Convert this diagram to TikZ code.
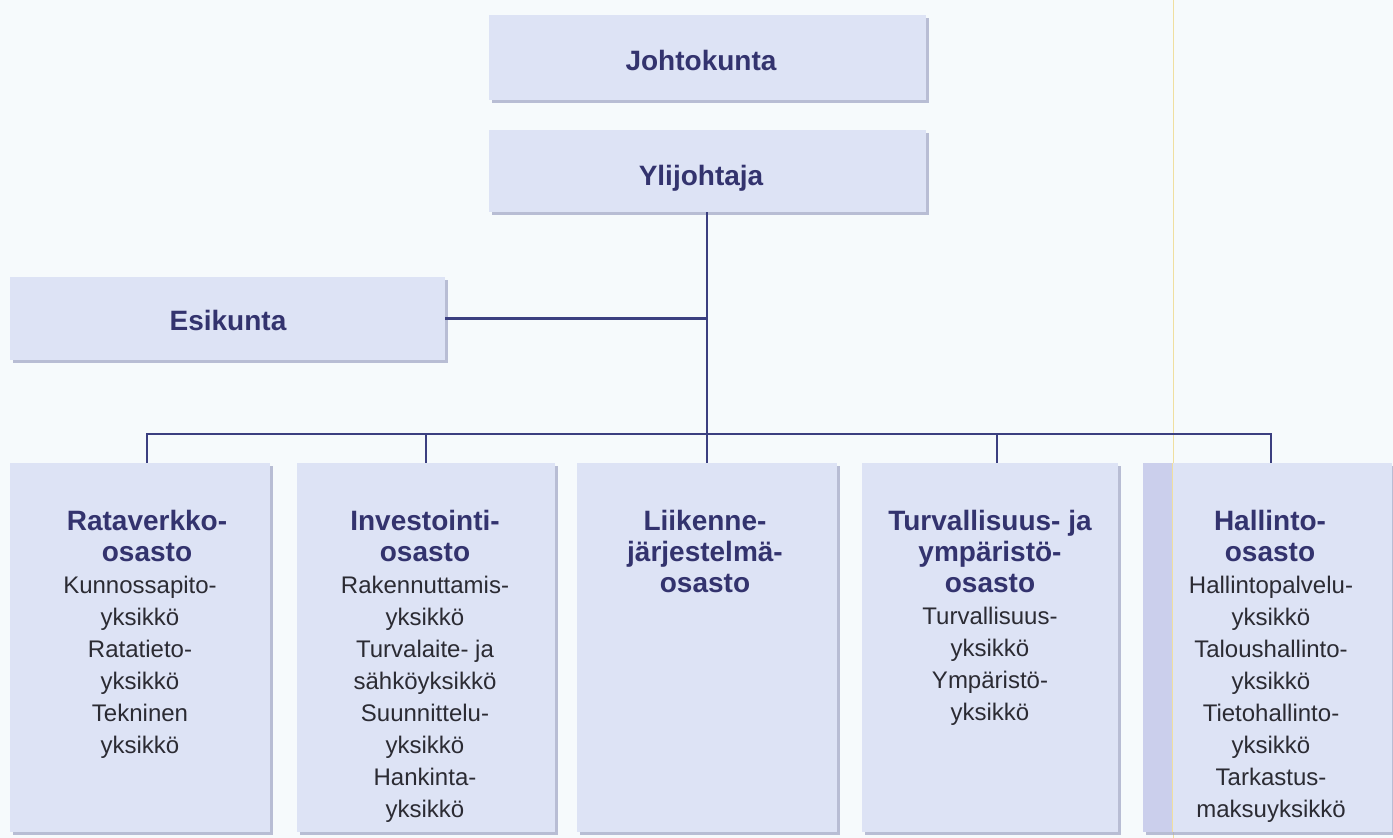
\documentclass[tikz,border=0pt]{standalone}
\usepackage{fontspec}
\setmainfont{Liberation Sans}
\usetikzlibrary{shadows}
\definecolor{bg}{HTML}{F6FAFC}
\definecolor{boxfill}{HTML}{DDE3F5}
\definecolor{strip}{HTML}{CBCFEC}
\definecolor{shadowc}{HTML}{9EA4C4}
\definecolor{navy}{HTML}{33336E}
\definecolor{linec}{HTML}{3B3F80}
\definecolor{subc}{HTML}{2B2B33}
\definecolor{gutter}{HTML}{F0DFA0}
\begin{document}
\begin{tikzpicture}[x=1pt,y=-1pt,
  box/.style={draw=none, fill=boxfill, inner sep=0pt,
    drop shadow={shadow xshift=3pt, shadow yshift=-3pt, fill=shadowc, opacity=0.7}},
  head/.style={font=\bfseries\fontsize{28}{31}\selectfont, text=navy, inner sep=0pt, align=center},
  sub/.style={font=\fontsize{24}{32}\selectfont, text=subc, inner sep=0pt, align=center},
  conn/.style={draw=linec, line width=2.6pt}]
\fill[bg] (0,0) rectangle (1393,838);
\useasboundingbox (0,0) rectangle (1393,838);
\draw[gutter, line width=1pt] (1173,0) -- (1173,838);

% boxes
\node[box, minimum width=437pt, minimum height=85pt] (joht) at (707,57.5) {};
\node[box, minimum width=437pt, minimum height=82pt] (ylij) at (707,171) {};
\node[box, minimum width=435pt, minimum height=83pt] (esik) at (227.5,318.5) {};
\node[box, minimum width=260pt, minimum height=369pt] (d1) at (140,647.5) {};
\node[box, minimum width=258pt, minimum height=369pt] (d2) at (426,647.5) {};
\node[box, minimum width=260pt, minimum height=369pt] (d3) at (707,647.5) {};
\node[box, minimum width=256pt, minimum height=369pt] (d4) at (990,647.5) {};
\node[box, minimum width=249pt, minimum height=369pt] (d5) at (1267.5,647.5) {};
\fill[strip] (d5.north west) rectangle ([xshift=30pt]d5.south west);
\draw[gutter, line width=1pt] ([xshift=30pt]d5.north west) -- ([xshift=30pt]d5.south west);

% connectors
\draw[conn] (ylij.south) -- (d3.north);
\draw[conn] (esik.east) -- (esik.east -| ylij.south);
\draw[conn] ([xshift=7pt]d1.north) -- ([xshift=7pt]d1.north |- 0,434)
  -- ([xshift=3.5pt]d5.north |- 0,434) -- ([xshift=3.5pt]d5.north);
\draw[conn] (d2.north) -- (d2.north |- 0,434);
\draw[conn] ([xshift=7pt]d4.north) -- ([xshift=7pt]d4.north |- 0,434);

% texts
\node[head, anchor=base] (jt) at (701,70) {Johtokunta};
\node[head, anchor=base] (yt) at (701,185) {Ylijohtaja};
\node[head, anchor=base] (et) at (228,330) {Esikunta};

\node[head, anchor=north] (d1h) at (147,510) {Rataverkko-\\osasto};
\node[sub, anchor=north] (d1s) at (140,576) {Kunnossapito-\\yksikkö\\Ratatieto-\\yksikkö\\Tekninen\\yksikkö};

\node[head, anchor=north] (d2h) at (425,510) {Investointi-\\osasto};
\node[sub, anchor=north] (d2s) at (425,576) {Rakennuttamis-\\yksikkö\\Turvalaite- ja\\sähköyksikkö\\Suunnittelu-\\yksikkö\\Hankinta-\\yksikkö};

\node[head, anchor=north] (d3h) at (705,510) {Liikenne-\\järjestelmä-\\osasto};

\node[head, anchor=north] (d4h) at (990,510) {Turvallisuus- ja\\ympäristö-\\osasto};
\node[sub, anchor=north] (d4s) at (990,607) {Turvallisuus-\\yksikkö\\Ympäristö-\\yksikkö};

\node[head, anchor=north] (d5h) at (1270,510) {Hallinto-\\osasto};
\node[sub, anchor=north] (d5s) at (1271,576) {Hallintopalvelu-\\yksikkö\\Taloushallinto-\\yksikkö\\Tietohallinto-\\yksikkö\\Tarkastus-\\maksuyksikkö};
\end{tikzpicture}
\end{document}
